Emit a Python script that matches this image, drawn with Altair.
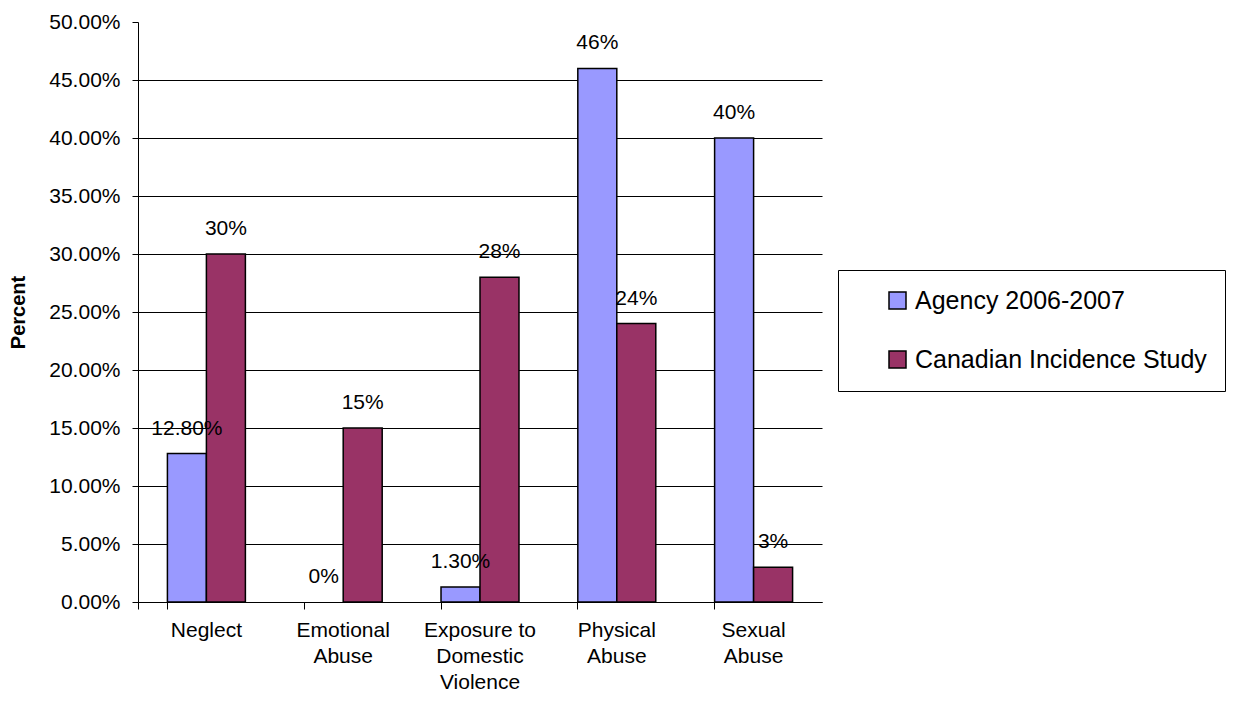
import altair as alt
import pandas as pd

categories = ["Neglect", "Emotional|Abuse", "Exposure to|Domestic|Violence", "Physical|Abuse", "Sexual|Abuse"]
series = ["Agency 2006-2007", "Canadian Incidence Study"]
agency = [0.128, 0.0, 0.013, 0.46, 0.40]
canadian = [0.30, 0.15, 0.28, 0.24, 0.03]
agency_labels = ["12.80%", "0%", "1.30%", "46%", "40%"]
canadian_labels = ["30%", "15%", "28%", "24%", "3%"]
y_ticks = [0.0, 0.05, 0.10, 0.15, 0.20, 0.25, 0.30, 0.35, 0.40, 0.45, 0.50]
colors = ["#9999FF", "#993366"]

rows = []
for c, v, l in zip(categories, agency, agency_labels):
    rows.append({"category": c, "series": series[0], "value": v, "label": l})
for c, v, l in zip(categories, canadian, canadian_labels):
    rows.append({"category": c, "series": series[1], "value": v, "label": l})
df = pd.DataFrame(rows)

FONT = "Liberation Sans"

x_enc = alt.X(
    "category:N",
    sort=categories,
    scale=alt.Scale(paddingInner=0.43, paddingOuter=0.215),
    axis=alt.Axis(
        title=None,
        labelAngle=0,
        bandPosition=0,
        tickExtra=True,
        labelExpr="split(datum.label, '|')",
        labelFont=FONT,
        labelFontSize=21,
        labelLineHeight=26,
        labelPadding=10,
        labelBaseline="top",
        labelColor="black",
        tickSize=7,
        tickColor="black",
        domainColor="black",
        grid=False,
    ),
)
xoff = alt.XOffset("series:N", sort=series)
y_enc = alt.Y(
    "value:Q",
    scale=alt.Scale(domain=[0, 0.5], nice=False),
    axis=alt.Axis(
        values=y_ticks,
        format=".2%",
        title="Percent",
        titleFont=FONT,
        titleFontSize=20,
        titleFontWeight="bold",
        titleColor="black",
        titleX=-120,
        titleY=290,
        titleAngle=-90,
        titleAlign="center",
        titleBaseline="middle",
        labelFont=FONT,
        labelFontSize=21,
        labelColor="black",
        labelPadding=12,
        tickSize=6,
        tickColor="black",
        domainColor="black",
        grid=True,
        gridColor={"condition": {"test": "datum.value >= 0.5", "value": "transparent"}, "value": "black"},
        gridWidth=1,
    ),
)

bars = alt.Chart(df).transform_filter("datum.value > 0").mark_bar(
    stroke="black", strokeWidth=1.5
).encode(
    x=x_enc,
    xOffset=xoff,
    y=y_enc,
    color=alt.Color(
        "series:N",
        sort=series,
        scale=alt.Scale(domain=series, range=colors),
        legend=alt.Legend(
            title=None,
            orient="none",
            legendX=700,
            legendY=248,
            strokeColor="black",
            fillColor="white",
            padding=18,
            symbolType="square",
            symbolSize=289,
            symbolStrokeColor="black",
            symbolStrokeWidth=1.5,
            symbolOffset=29,
            labelFont=FONT,
            labelFontSize=25,
            labelColor="black",
            labelOffset=5,
            labelLimit=600,
            rowPadding=33,
        ),
    ),
)

texts = alt.Chart(df).mark_text(
    font=FONT, fontSize=21, color="black", dy=-25, baseline="middle", align="center"
).encode(
    x=alt.X("category:N", sort=categories),
    xOffset=xoff,
    y=alt.Y("value:Q"),
    text="label:N",
)

chart = alt.layer(bars, texts).properties(
    width=684,
    height=580,
    autosize="none",
    background="white",
    padding={"left": 130, "top": 14, "right": 413, "bottom": 91},
).configure_view(stroke="transparent", strokeWidth=0)

chart.save("out.html", embed_options={"renderer": "svg", "actions": False})
